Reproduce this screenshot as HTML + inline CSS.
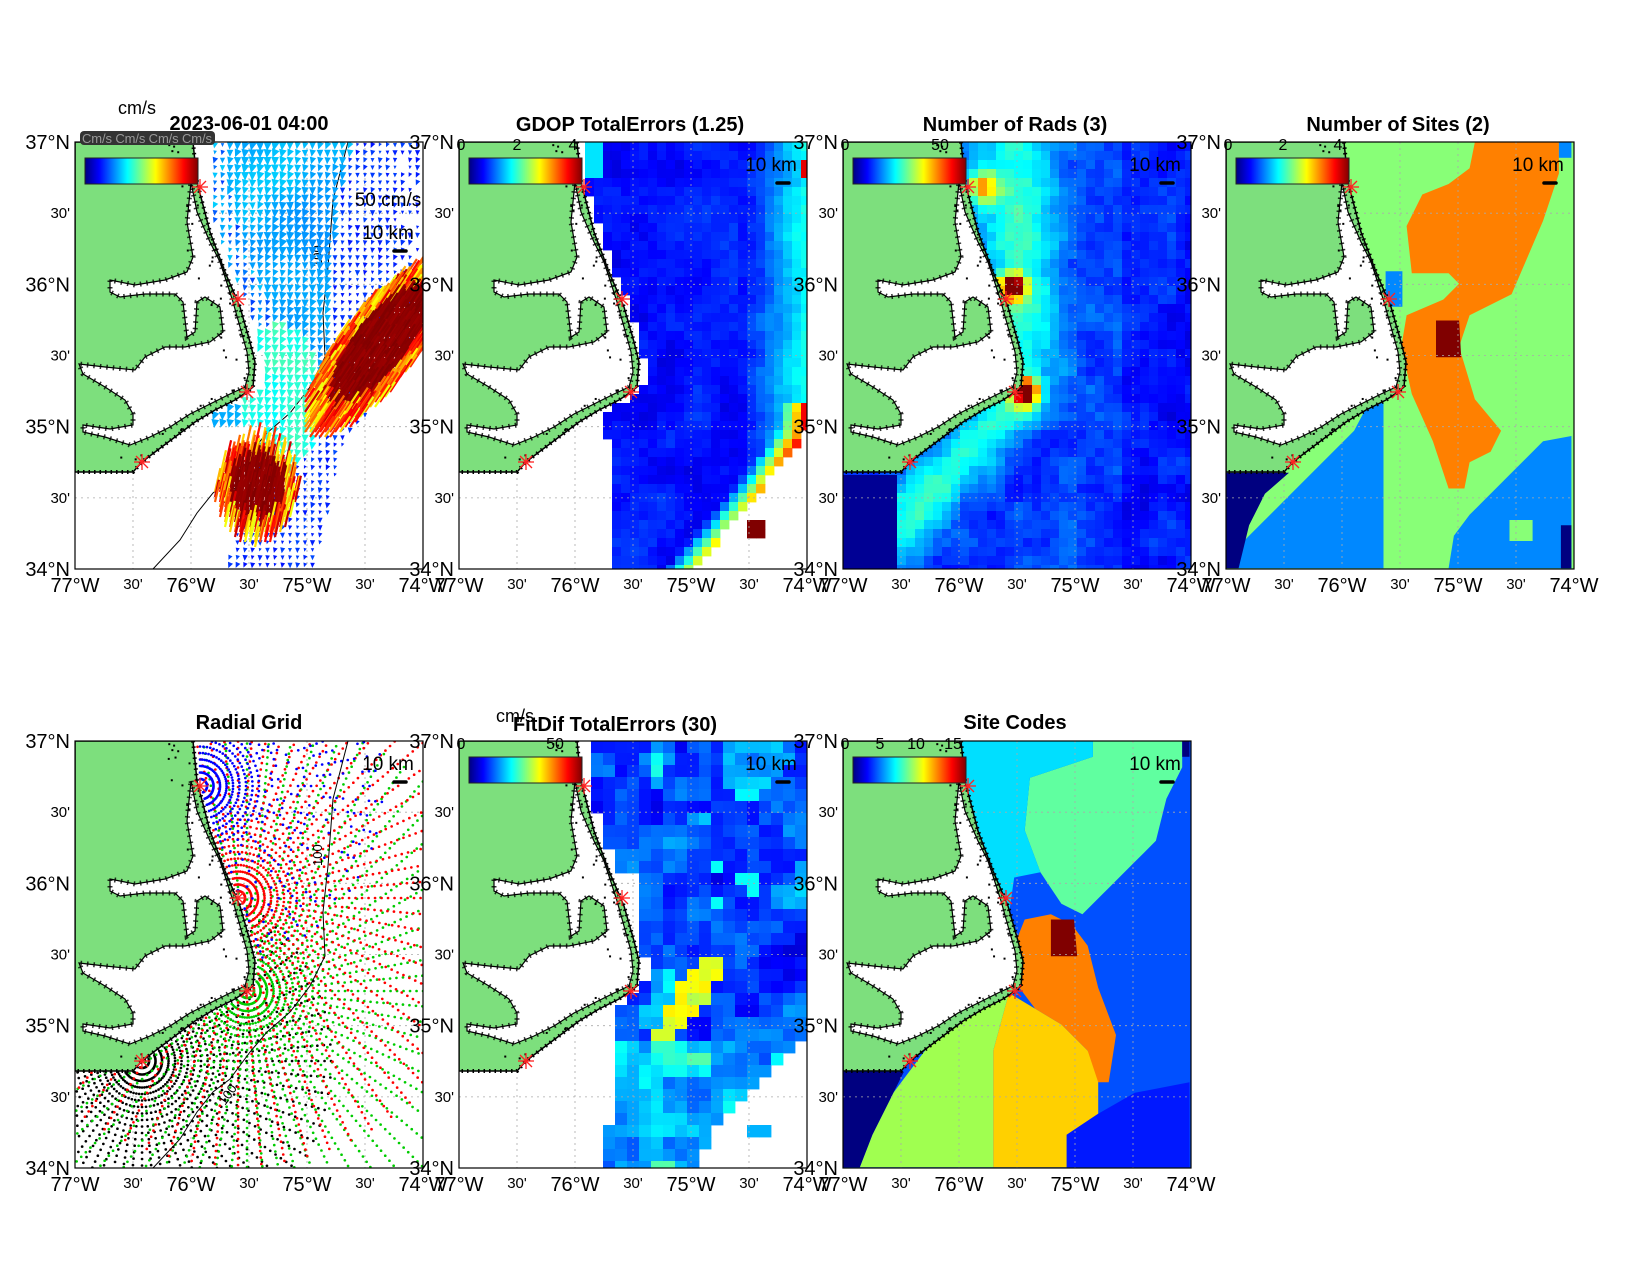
<!DOCTYPE html>
<html><head><meta charset="utf-8">
<style>
html,body{margin:0;padding:0;background:#fff;}
svg{display:block;font-family:"Liberation Sans",sans-serif;}
.t{font-weight:bold;font-size:20px;text-anchor:middle;}
.yl{font-size:20px;text-anchor:end;}
.ys{font-size:15px;text-anchor:end;}
.xl{font-size:20px;text-anchor:middle;}
.xs{font-size:15px;text-anchor:middle;}
.cb{font-size:16px;text-anchor:middle;}
</style></head>
<body>
<svg id="s" width="1650" height="1275" viewBox="0 0 1650 1275" xmlns="http://www.w3.org/2000/svg">
<defs>
<clipPath id="clip"><rect x="0" y="0" width="348" height="427"/></clipPath>
<linearGradient id="jet" x1="0" x2="1" y1="0" y2="0">
<stop offset="0" stop-color="#000080"/><stop offset="0.125" stop-color="#0000ff"/><stop offset="0.375" stop-color="#00ffff"/><stop offset="0.625" stop-color="#ffff00"/><stop offset="0.875" stop-color="#ff0000"/><stop offset="1" stop-color="#800000"/>
</linearGradient>
</defs>
<g id="panels"></g>
<g id="texts" fill="#000">
<text class="t" x="249" y="130">2023-06-01 04:00</text>
<text x="118" y="114" font-size="18">cm/s</text>
<text class="t" x="630" y="131">GDOP TotalErrors (1.25)</text>
<text class="t" x="1015" y="131">Number of Rads (3)</text>
<text class="t" x="1398" y="131">Number of Sites (2)</text>
<text class="t" x="249" y="729" font-size="22">Radial Grid</text>
<text class="t" x="615" y="731">FitDif TotalErrors (30)</text>
<text x="496" y="722" font-size="18">cm/s</text>
<text class="t" x="1015" y="729" font-size="22">Site Codes</text>
<text class="cb" x="461" y="150">0</text><text class="cb" x="517" y="150">2</text><text class="cb" x="573" y="150">4</text>
<text class="cb" x="845" y="150">0</text><text class="cb" x="940" y="150">50</text>
<text class="cb" x="1228" y="150">0</text><text class="cb" x="1283" y="150">2</text><text class="cb" x="1338" y="150">4</text>
<text class="cb" x="461" y="749">0</text><text class="cb" x="555" y="749">50</text>
<text class="cb" x="845" y="749">0</text><text class="cb" x="880" y="749">5</text><text class="cb" x="916" y="749">10</text><text class="cb" x="953" y="749">15</text>
</g>
</svg>
<script>
const W=348,H=427;
const origins=[[75,142],[459,142],[843,142],[1226,142],[75,741],[459,741],[843,741]];
function jet(t){t=Math.max(0,Math.min(1,t));const c=v=>Math.round(255*Math.max(0,Math.min(1,v)));return `rgb(${c(1.5-Math.abs(4*t-3))},${c(1.5-Math.abs(4*t-2))},${c(1.5-Math.abs(4*t-1))})`;}
function hash(i,j,s){let h=Math.sin(i*127.1+j*311.7+s*74.7)*43758.5453;return h-Math.floor(h);}
function noise(x,y,s){const xi=Math.floor(x),yi=Math.floor(y),fx=x-xi,fy=y-yi;const a=hash(xi,yi,s),b=hash(xi+1,yi,s),c=hash(xi,yi+1,s),d=hash(xi+1,yi+1,s);const u=fx*fx*(3-2*fx),v=fy*fy*(3-2*fy);return a+(b-a)*u+(c-a)*v+(a-b-c+d)*u*v;}
const coastE=[[118,0],[122,40],[135,90],[150,130],[165,165],[175,200],[180,220],[178,245],[172,250]];
const coastS=[[0,330],[58,330],[67,320],[80,310],[100,295],[120,280],[140,268],[160,258],[172,250]];
function interp(p,v,ki,ko){for(let k=0;k<p.length-1;k++){const a=p[k],b=p[k+1];if(v>=a[ki]&&v<=b[ki]){const f=(v-a[ki])/((b[ki]-a[ki])||1);return a[ko]+f*(b[ko]-a[ko]);}}return null;}
function ocean(x,y){if(y<0)y=0;if(y<250)return x>interp(coastE,y,1,0);if(x>=172)return true;if(x<0)x=0;return y>interp(coastS,x,0,1);}
function cx(y){return y<250?interp(coastE,Math.max(0,y),1,0):0;}
function poly(pts,fill,extra){return `<polygon points="${pts.map(p=>p.join(',')).join(' ')}" fill="${fill}" ${extra||''}/>`;}
function D(pts,ox,oy){return pts.map(p=>[((p[0]-ox)*1.05).toFixed(1),((p[1]-oy)*1.05).toFixed(1)]);}
function cells(fn,sz){let s='';for(let y=0;y<H;y+=sz)for(let x=0;x<W;x+=sz){const t=fn(x+sz/2,y+sz/2);if(t!==null&&t!==undefined)s+=`<rect x="${x}" y="${y}" width="${sz+0.4}" height="${sz+0.4}" fill="${typeof t==='string'?t:jet(t)}"/>`;}return s;}
const landPts=[[0,0]].concat(coastE).concat(coastS.slice(0,-1).reverse());
const soundPts=[[116,40],[122,70],[135,100],[145,120],[150,135],[158,160],[165,185],[172,210],[174,230],[170,245],[155,252],[135,262],[115,272],[95,285],[75,295],[55,303],[30,295],[8,290],[8,283],[35,287],[58,283],[58,272],[50,258],[30,245],[8,232],[4,222],[30,225],[60,228],[70,215],[90,205],[110,205],[135,200],[148,190],[145,165],[130,155],[122,160],[120,190],[112,195],[108,160],[100,152],[70,152],[45,155],[35,150],[35,138],[60,143],[90,138],[112,130],[118,115],[112,80]];
const sites=[[125,45],[163,157],[172,250],[67,320]];
function land(){let s=poly(landPts,'#7ddf7d','stroke="#000" stroke-width="1.5"');
s+=poly(soundPts,'#fff','stroke="#000" stroke-width="1.2"');
s+=poly(soundPts,'none','stroke="#000" stroke-width="5" stroke-dasharray="1.5 5" opacity="0.8"');
s+=`<polyline points="${landPts.slice(1).map(p=>p.join(',')).join(' ')}" fill="none" stroke="#000" stroke-width="4" stroke-dasharray="1.5 4"/>`;
for(let k=0;k<260;k++){const x=hash(k,1,9)*170,y=hash(k,2,9)*330;if(!ocean(x,y)&&ocean(x+30,y))s+=`<rect x="${x}" y="${y}" width="2" height="2" fill="#000"/>`;}
return s;}
function stars(){let s='';for(const [x,y] of sites){s+=`<g stroke="#f22" stroke-width="1.3"><line x1="${x-8}" y1="${y}" x2="${x+8}" y2="${y}"/><line x1="${x}" y1="${y-8}" x2="${x}" y2="${y+8}"/><line x1="${x-6}" y1="${y-6}" x2="${x+6}" y2="${y+6}"/><line x1="${x-6}" y1="${y+6}" x2="${x+6}" y2="${y-6}"/></g>`;}return s;}
function grid(){let s='<g stroke="#aaa" stroke-width="0.8" stroke-dasharray="2 4">';for(let i=1;i<6;i++){s+=`<line x1="${i*58}" y1="0" x2="${i*58}" y2="427"/>`;s+=`<line x1="0" y1="${(i*71.17).toFixed(1)}" x2="348" y2="${(i*71.17).toFixed(1)}"/>`;}return s+'</g>';}
function cbar(){return `<rect x="10" y="16" width="113" height="26" fill="url(#jet)" stroke="#222" stroke-width="1"/>`;}
function scale(x,y){return `<text x="${x}" y="${y}" font-size="19" text-anchor="middle">10 km</text><line x1="${x+6}" y1="${y+12}" x2="${x+18}" y2="${y+12}" stroke="#000" stroke-width="3.5" stroke-linecap="round"/>`;}
const iso=[[273,0],[258,58],[253,125],[248,171],[250,215],[235,245],[215,271],[192,291],[175,311],[155,338],[138,351],[122,371],[105,398],[78,427]];
function isoX(y){return interp(iso,Math.max(0,Math.min(427,y)),1,0);}
function isoline(){return `<polyline points="${iso.map(p=>p.join(',')).join(' ')}" fill="none" stroke="#000" stroke-width="1"/><text x="0" y="0" font-size="13" transform="translate(247,125) rotate(-90)">100</text><text x="0" y="0" font-size="13" transform="translate(150,365) rotate(-55)">100</text>`;}
function axes(i){const [ox,oy]=origins[i];let s='';
 const yl=["37°N","30'","36°N","30'","35°N","30'","34°N"];
 for(let k=0;k<7;k++){const y=oy+k*71.17;const sm=yl[k]=="30'";s+=`<text class="${sm?'ys':'yl'}" x="${ox-5}" y="${(y+(sm?5:7)).toFixed(1)}">${yl[k]}</text>`;}
 const xl=["77°W","30'","76°W","30'","75°W","30'","74°W"];
 for(let k=0;k<7;k++){const x=ox+k*58;const sm=xl[k]=="30'";s+=`<text class="${sm?'xs':'xl'}" x="${x}" y="${oy+427+(sm?20:23)}">${xl[k]}</text>`;}
 return s;}
function wrap(i,inner){const [ox,oy]=origins[i];return `<g transform="translate(${ox},${oy})"><g clip-path="url(#clip)">${inner}</g><rect x="0" y="0" width="348" height="427" fill="none" stroke="#000" stroke-width="1.2"/></g>`+axes(i);}
function tri(x,y,sz,ang,col){const ux=Math.cos(ang),uy=Math.sin(ang);const p=[[x+ux*sz,y+uy*sz],[x-ux*sz*0.3-uy*sz*0.6,y-uy*sz*0.3+ux*sz*0.6],[x-ux*sz*0.3+uy*sz*0.6,y-uy*sz*0.3-ux*sz*0.6]];return poly(p.map(q=>[q[0].toFixed(1),q[1].toFixed(1)]),col);}
function p1(){let s='',r='';
 for(let y=2;y<H;y+=7.5)for(let x=140;x<W;x+=7.5){
  if(!ocean(x-6,y))continue;
  let rb=y<200?345:(y<300?348-(y-200)*0.8:268-(y-300)*0.22);
  let lb=y<280?cx(y)+8:190-(y-280)*0.27;
  if(x>rb||x<lb)continue;
  const ix=isoX(y);
  let t,sz;
  if(x>ix+5){t=0.14+0.06*hash(x,y,2);sz=2.5+2*hash(x,y,5);if(x>320&&y<150&&hash(x,y,3)<0.3)continue;}
  else if(x<cx(y)+30&&y<250){t=0.18+0.15*hash(x,y,3);sz=3+2*hash(x,y,4);}
  else{t=0.26+0.08*noise(x/35,y/35,5);sz=5+2*noise(x/25,y/25,8);}
  if(((x-205)/42)**2+((y-255)/75)**2<1){t=0.36+0.1*noise(x/20,y/20,6);sz=6;}
  if(y>300&&x<ix+5){t=0.3+0.12*hash(x,y,7);sz=5;}
  const ang=Math.PI/2+0.5*(hash(x,y,9)-0.5)+0.2;
  s+=tri(x,y,sz,ang,jet(t));
 }
 for(let y=0;y<H;y+=5)for(let x=140;x<W;x+=5){
  const dx=x-298,dy=y-212;const a=dx*0.63-dy*0.78,b=dx*0.78+dy*0.63;
  const in1=(a*a)/(95*95)+(b*b)/(34*34);
  const in2=((x-180)/36)**2+((y-355)/45)**2;
  const m=Math.min(in1,in2);if(m>1.25)continue;
  let t=m<0.6?0.97+0.03*hash(x,y,1):0.6+0.35*hash(x,y,2);
  const d=in1<in2?[0.55,-0.83]:[0.22,-0.97];const L=16+12*hash(x,y,3);
  r+=`<line x1="${x.toFixed(1)}" y1="${y.toFixed(1)}" x2="${(x+d[0]*L).toFixed(1)}" y2="${(y+d[1]*L).toFixed(1)}" stroke="${jet(t)}" stroke-width="2.2"/>`;
 }
 s=grid()+isoline()+s+r+land()+stars()+cbar()+scale(313,97)+`<text x="313" y="64" font-size="19" text-anchor="middle">50 cm/s</text>`;
 return wrap(0,s)+`<rect x="80" y="131" width="135" height="14" rx="4" fill="#333"/><text x="82" y="143" font-size="13" fill="#999" textLength="130">Cm/s Cm/s Cm/s Cm/s</text>`;}
function p2(){const f=(x,y)=>{if(!ocean(x-6,y))return null;let lb=y<250?cx(y)+5:(y<300?140:150);if(x<lb)return null;
 const fr=y<290?348:348-(y-290)*0.82;if(x>fr){if(x>285&&x<305&&y>378&&y<400)return 1;return null;}
 let t=0.1+0.08*noise(x/30,y/30,1)+0.04*(hash(x,y,2)-0.5);
 if(x>285)t+=(x-285)/63*0.25;
 const d=fr-x;if(y>260&&d<30)t+=(30-d)/30*0.5;
 if(x>338&&y>22&&y<36)t=0.9;
 if(x<140&&y<40)t=0.35;
 return t;};
 return wrap(1,cells(f,9)+grid()+land()+stars()+cbar()+scale(312,29));}
function p3(){const f=(x,y)=>{let t=0.12+0.09*noise(x/25,y/25,3)+0.05*hash(x,y,4);
 const c=y>255?175-(y-255)*0.95:175;t+=0.22*Math.exp(-(((x-c)/40)**2));
 t+=0.8*Math.exp(-((x-170)**2+(y-145)**2)/150)+0.8*Math.exp(-((x-182)**2+(y-250)**2)/170)+0.45*Math.exp(-((x-140)**2+(y-45)**2)/250);
 if(y>330&&x<58)t=0.02;if(x>280)t-=0.04;
 return Math.min(t,1);};
 return wrap(2,cells(f,9)+grid()+land()+stars()+cbar()+scale(312,29));}
function p4(){const o=[1168,135];let s=`<rect width="348" height="427" fill="#88ff77"/>`;
 s+=poly(D([[1405,135],[1485,135],[1485,165],[1470,210],[1440,280],[1400,300],[1390,330],[1405,380],[1430,410],[1420,430],[1400,440],[1395,465],[1380,465],[1365,420],[1345,375],[1335,330],[1340,300],[1375,285],[1390,270],[1380,260],[1345,260],[1340,215],[1355,185],[1380,175],[1400,160]],...o),'#ff8000');
 s+=poly(D([[1368,305],[1390,305],[1392,340],[1368,340]],...o),'#800000');
 s+=poly(D([[1497,415],[1470,420],[1440,450],[1400,490],[1385,510],[1380,541],[1497,541]],...o),'#0088ff');
 s+=poly(D([[1438,495],[1460,495],[1460,515],[1438,515]],...o),'#88ff77');
 s+=poly(D([[1487,500],[1497,500],[1497,541],[1487,541]],...o),'#000080');
 s+=poly(D([[1310,372],[1318,372],[1318,541],[1180,541],[1180,520],[1200,500],[1230,470],[1260,440],[1290,410]],...o),'#0088ff');
 s+=poly(D([[1168,450],[1228,450],[1205,470],[1190,500],[1180,541],[1168,541]],...o),'#000080');
 s+=poly(D([[1320,258],[1336,258],[1336,292],[1320,292]],...o),'#0088ff');
 s+=poly(D([[1485,135],[1497,135],[1497,150],[1485,150]],...o),'#0088ff');
 return wrap(3,s+grid()+land()+stars()+cbar()+scale(312,29));}
function p5(){let s='';const cfg=[[3,'#000',190],[2,'#0c0',275],[1,'#f00',270],[0,'#00f',185]];
 for(const [k,col,R] of cfg){const [sx,sy]=sites[k];let d='';
  for(let r=7;r<=R;r+=6.5)for(let a=0;a<360;a+=5){const th=a*Math.PI/180;const x=sx+r*Math.cos(th),y=sy+r*Math.sin(th);
   if(x<0||x>W||y<0||y>H)continue;if(!ocean(x-3,y))continue;
   if(k==0&&r>60&&hash(r,a,1)<0.5)continue;
   d+=`M${x.toFixed(1)},${y.toFixed(1)}h0.1`;}
  s+=`<path d="${d}" stroke="${col}" stroke-width="2.6" stroke-linecap="round" fill="none"/>`;}
 return wrap(4,grid()+s+isoline()+land()+stars()+scale(313,29));}
function p6(){const f=(x,y)=>{if(!ocean(x-8,y))return null;let lb;
 if(y<130)lb=125+(y/130)*20;else if(y<215)lb=178;else if(y<270)lb=163;else if(y<380)lb=155;else lb=148;
 if(x<lb)return null;
 const fr=y<300?348:(y<380?348-(y-300)*1.15:256-(y-380)*0.4);
 if(x>fr){if(x>285&&x<312&&y>378&&y<402)return 0.3;return null;}
 let t=0.1+0.18*noise(x/24,y/24,7)+0.07*(hash(x,y,3)-0.5);
 if(noise(x/40,y/40,8)>0.75)t+=0.13;
 if(y>300)t+=0.1;
 const dx=x-232,dy=y-255;const a=dx*0.6-dy*0.8,b=dx*0.8+dy*0.6;
 if(a*a/(55*55)+b*b/(14*14)<1)t=0.55+0.1*hash(x,y,4);
 if(x>250&&x<305&&y>120&&y<170&&noise(x/20,y/20,9)>0.5)t=Math.max(t,0.38);
 return Math.min(t,0.7);};
 return wrap(5,cells(f,12)+grid()+land()+stars()+cbar()+scale(312,29));}
function p7(){const o=[802,705];let s=`<rect width="348" height="427" fill="#0050ff"/>`;
 s+=poly(D([[1040,705],[1125,705],[1125,730],[1110,760],[1100,800],[1080,820],[1050,850],[1030,870],[1010,860],[990,830],[975,790],[980,740],[1040,720]],...o),'#60ffa0');
 s+=poly(D([[1125,705],[1132,705],[1132,720],[1125,720]],...o),'#000080');
 s+=poly(D([[905,705],[1040,705],[1040,720],[980,740],[975,790],[990,830],[965,835],[960,870],[940,860],[920,800]],...o),'#00dfff');
 s+=poly(D([[1000,870],[1020,880],[1035,900],[1045,940],[1062,985],[1055,1030],[1040,1030],[1035,1000],[1010,975],[985,960],[970,940],[965,900],[975,875]],...o),'#ff8000');
 s+=poly(D([[1000,875],[1022,875],[1025,910],[1000,910]],...o),'#800000');
 s+=poly(D([[960,945],[985,960],[1010,975],[1035,1000],[1045,1030],[1045,1060],[1015,1080],[1015,1111],[945,1111],[945,1000]],...o),'#ffd000');
 s+=poly(D([[960,945],[945,1000],[945,1111],[818,1111],[830,1080],[850,1040],[880,1000],[920,965]],...o),'#a0ff50');
 s+=poly(D([[802,1020],[860,1020],[850,1040],[830,1080],[818,1111],[802,1111]],...o),'#000080');
 s+=poly(D([[1015,1080],[1045,1060],[1080,1040],[1132,1030],[1132,1111],[1015,1111]],...o),'#0018ff');
 return wrap(6,s+grid()+land()+stars()+cbar()+scale(312,29));}
document.getElementById('panels').innerHTML=p1()+p2()+p3()+p4()+p5()+p6()+p7();
</script>
</body></html>
